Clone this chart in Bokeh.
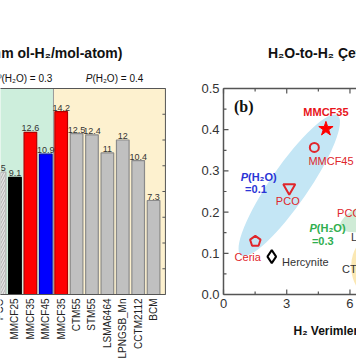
import math
from bokeh.plotting import figure
from bokeh.models import (Range1d, FixedTicker, ColumnDataSource, NumeralTickFormatter)
from bokeh.layouts import row
from bokeh.embed import file_html
from bokeh.resources import INLINE
from bokeh.core.properties import value

# ---------------- data: panel (a) ----------------
bar_names = ["PCO", "MMCF25", "MMCF35", "MMCF45", "MMCF35", "CTM55", "STM55",
             "LSMA6464", "LPNGSB_Mn", "CCTM2112", "BCM"]
bar_values = [9.5, 9.1, 12.6, 10.9, 14.2, 12.5, 12.4, 11, 12, 10.4, 7.3]
bar_value_text = ["9.5", "9.1", "12.6", "10.9", "14.2", "12.5", "12.4", "11", "12", "10.4", "7.3"]
group_names = ["P(H₂O) = 0.3", "P(H₂O) = 0.4"]
a_yticks = [0, 2, 4, 6, 8, 10, 12, 14, 16]

# ---------------- data: panel (b) ----------------
pt_names = ["MMCF35", "MMCF45", "PCO", "Ceria", "Hercynite"]
pt_x = [4.86, 4.31, 3.12, 1.51, 2.29]
pt_y = [0.402, 0.357, 0.259, 0.129, 0.092]
b_yticks = [0.0, 0.1, 0.2, 0.3, 0.4, 0.5]
b_yminor = [0.05, 0.15, 0.25, 0.35, 0.45]
b_xticks = [0, 3, 6]
b_xminor = [1.5, 4.5]
b_xlabels = ["0", "3", "6"]

FONT = "Liberation Sans"
AX = "#555555"
H = 364          # canvas height
BOX_TOP = 88     # pixel rows of the two boxes
BOX_BOT = 294

# ---------------- panel (a) ----------------
A_YMAX = 16
A_XMAX = 9.77
PXY = (BOX_BOT - BOX_TOP) / A_YMAX          # pixels per unit (vertical)
bar_pos = [i - 1 for i in range(len(bar_names))]
bar_fill = ["#e6e6e6", "#000000", "#ff0000", "#0000ff", "#ff0000"] + ["#c0c0c0"] * 6
bar_line = ["#b5b5b5", "#000000", "#b00000", "#0000b0", "#b00000"] + ["#8a8a8a"] * 6
bar_hatch = ["/"] + [" "] * 10

p1 = figure(width=170, height=H, x_range=Range1d(-0.94, -0.94 + 170 / 15.4),
            y_range=Range1d(-(H - BOX_BOT) / PXY, BOX_BOT / PXY),
            output_backend="svg", toolbar_location=None,
            x_axis_location=None, y_axis_location=None,
            min_border_left=0, min_border_right=0, min_border_top=0, min_border_bottom=0)
p1.outline_line_color = None
p1.grid.visible = False

split = 2.5  # between MMCF45 (0.3) and MMCF35 (0.4)
p1.quad(left=[-3, split], right=[split, A_XMAX], bottom=[0, 0], top=[A_YMAX, A_YMAX],
        fill_color=["#cdeedc", "#fdf1cf"], line_color=None)
p1.segment(x0=[split], y0=[0], x1=[split], y1=[A_YMAX], line_color="#9a9a9a", line_width=1)

src = ColumnDataSource(dict(x=bar_pos, top=bar_values, fill=bar_fill, line=bar_line,
                            hatch=bar_hatch, txt=bar_value_text, name=bar_names))
p1.vbar(x="x", top="top", bottom=0, width=0.82, source=src, fill_color="fill",
        line_color="line", line_width=1.2, hatch_pattern="hatch", hatch_color="#b0b0b0",
        hatch_scale=5, hatch_weight=1)
p1.text(x="x", y="top", text="txt", source=src, text_align="center", text_baseline="bottom",
        y_offset=-1, text_font_size="9px", text_color="#333333", text_font=value(FONT))

# box: top, right and bottom lines, inward ticks on the right
p1.segment(x0=[-3, A_XMAX, -3], y0=[A_YMAX, 0, 0], x1=[A_XMAX, A_XMAX, A_XMAX],
           y1=[A_YMAX, A_YMAX, 0], line_color=AX, line_width=1)
p1.ray(x=[A_XMAX] * len(a_yticks), y=a_yticks, length=3, length_units="screen",
       angle=math.pi, line_color=AX, line_width=1)

# category labels, vertical, reading upward, ending just under the box
p1.text(x="x", y=-4 / PXY, text="name", source=src, angle=math.pi / 2,
        text_align="right", text_baseline="middle", text_font_size="10px",
        text_color="#222222", text_font=value(FONT))

# title and group captions above the box
p1.text(x=[6.98], y=[(BOX_BOT - 52) / PXY], text=["(mm ol-H₂/mol-atom)"], text_align="right",
        text_baseline="middle", text_font_size="14px", text_font_style="bold",
        text_color="#111111", text_font=value(FONT))
for gx, gname in [(-0.875, group_names[0]), (5.03, group_names[1])]:
    p1.text(x=[gx], y=[(BOX_BOT - 78) / PXY], text=[gname[0]], text_align="right",
            text_baseline="middle", text_font_size="10px", text_font_style="italic",
            text_color="#111111", text_font=value(FONT))
    p1.text(x=[gx], y=[(BOX_BOT - 78) / PXY], text=[gname[1:]], text_align="left",
            text_baseline="middle", text_font_size="10px", text_color="#111111",
            text_font=value(FONT))

# ---------------- panel (b) ----------------
B_YMAX = 0.5
B_XMAX = 6.31
PXB = 21.08                      # pixels per unit (horizontal)
PYB = (BOX_BOT - BOX_TOP) / B_YMAX
LEFT_PAD = 13                    # pixels of frame left of x = 0
p2 = figure(width=186, height=H, x_range=Range1d(-LEFT_PAD / PXB, B_XMAX),
            y_range=Range1d(-(H - BOX_BOT) / PYB, BOX_BOT / PYB),
            output_backend="svg", toolbar_location=None, x_axis_location=None,
            min_border_left=53 - LEFT_PAD, min_border_right=0, min_border_top=0,
            min_border_bottom=0)
p2.outline_line_color = None
p2.grid.visible = False

# shaded groups
p2.ellipse(x=[3.12], y=[0.265], width=[170], height=[38], angle=[55.4], angle_units="deg",
           width_units="screen", height_units="screen", fill_color="#c4e6f5", line_color=None)
p2.ellipse(x=[7.33], y=[0.197], width=[80], height=[28], angle=[20], angle_units="deg",
           width_units="screen", height_units="screen", fill_color="#cfebd6", line_color=None)
p2.ellipse(x=[7.24], y=[0.068], width=[50], height=[64], angle=[0], angle_units="deg",
           width_units="screen", height_units="screen", fill_color="#fbe8b4", line_color=None)

red = "#e0262b"
p2.scatter(x=[pt_x[0]], y=[pt_y[0]], marker="star", size=15, fill_color="#ff0000",
           line_color="#ff0000")
p2.scatter(x=[pt_x[1]], y=[pt_y[1]], marker="circle", size=9, fill_color=None,
           line_color=red, line_width=2)
p2.scatter(x=[pt_x[2]], y=[pt_y[2]], marker="inverted_triangle", size=12, fill_color=None,
           line_color=red, line_width=2)
if hasattr(p2, "ngon"):
    p2.ngon(x=[pt_x[3]], y=[pt_y[3]], radius=[5.5], radius_units="screen", n=5,
            fill_color=None, line_color=red, line_width=2)
else:
    p2.scatter(x=[pt_x[3]], y=[pt_y[3]], marker="hex", size=11, fill_color=None,
               line_color=red, line_width=2)
p2.scatter(x=[pt_x[4]], y=[pt_y[4]], marker="diamond", size=13, fill_color=None,
           line_color="#000000", line_width=2)

def t(x, y, s, color, align="center", style="normal", size="11px", font=FONT):
    p2.text(x=[x], y=[y], text=[s], text_align=align, text_baseline="middle",
            text_font_size=size, text_font_style=style, text_color=color,
            text_font=value(font))

t(4.86, 0.443, pt_names[0], "#e8141b", style="bold")
t(5.10, 0.325, pt_names[1], red)
t(3.05, 0.228, pt_names[2], red)
t(1.15, 0.0905, pt_names[3], red)
t(2.78, 0.078, pt_names[4], "#333333", align="left")
t(5.39, 0.199, "PCO", red, align="left")
t(6.05, 0.139, "LSMA6464", "#333333", align="left")
t(5.62, 0.061, "CTM55", "#333333", align="left")

blue = "#2b35d6"
green = "#2fae4f"
t(1.163, 0.286, "P", blue, align="right", style="bold italic")
t(1.163, 0.286, "(H₂O)", blue, align="left", style="bold")
t(1.54, 0.255, "=0.1", blue, style="bold")
t(4.43, 0.161, "P", green, align="right", style="bold italic")
t(4.43, 0.161, "(H₂O)", green, align="left", style="bold")
t(4.71, 0.131, "=0.3", green, style="bold")

t(0.5, 0.456, "(b)", "#111111", align="left", style="bold", size="16px", font="Liberation Serif")

# panel title above the box, x title below it
t(2.11, (BOX_BOT - 52) / PYB, "H₂O-to-H₂ Çevrim Verimliliği", "#111111", align="left",
  style="bold", size="14px")
t(3.32, (BOX_BOT - 330) / PYB, "H₂ Verimleri (mmol-H₂/mol-atom)", "#111111", align="left",
  style="bold", size="12px")

# box lines (left, top, bottom) with inward ticks
p2.segment(x0=[0, 0, 0], y0=[0, B_YMAX, 0], x1=[0, B_XMAX, B_XMAX], y1=[B_YMAX, B_YMAX, 0],
           line_color=AX, line_width=1.5)
p2.ray(x=b_xticks, y=[B_YMAX] * len(b_xticks), length=5, length_units="screen",
       angle=-math.pi / 2, line_color=AX, line_width=1.2)
p2.ray(x=b_xminor, y=[B_YMAX] * len(b_xminor), length=3, length_units="screen",
       angle=-math.pi / 2, line_color=AX, line_width=1.2)
p2.ray(x=b_xticks, y=[0] * len(b_xticks), length=5, length_units="screen",
       angle=math.pi / 2, line_color=AX, line_width=1.2)
p2.ray(x=b_xminor, y=[0] * len(b_xminor), length=3, length_units="screen",
       angle=math.pi / 2, line_color=AX, line_width=1.2)
p2.ray(x=[0] * len(b_yticks), y=b_yticks, length=5, length_units="screen",
       angle=0, line_color=AX, line_width=1.2)
p2.ray(x=[0] * len(b_yminor), y=b_yminor, length=3, length_units="screen",
       angle=0, line_color=AX, line_width=1.2)
p2.text(x=b_xticks, y=[-4 / PYB] * len(b_xticks), text=b_xlabels, text_align="center",
        text_baseline="top", text_font_size="13px", text_color="#333333",
        text_font=value(FONT))

# y tick labels from the library's axis (line and ticks drawn above at x = 0)
ly = p2.yaxis[0]
ly.ticker = FixedTicker(ticks=b_yticks, minor_ticks=b_yminor)
ly.formatter = NumeralTickFormatter(format="0.0")
ly.axis_line_color = None
ly.major_tick_line_color = None
ly.minor_tick_line_color = None
ly.major_tick_in = 0
ly.major_tick_out = 0
ly.minor_tick_in = 0
ly.minor_tick_out = 0
ly.major_label_text_font_size = "13px"
ly.major_label_text_font = FONT
ly.major_label_text_color = "#333333"
ly.major_label_standoff = 4 - LEFT_PAD

layout = row(p1, p2, spacing=0)
open("out.html", "w").write(file_html(layout, INLINE))
